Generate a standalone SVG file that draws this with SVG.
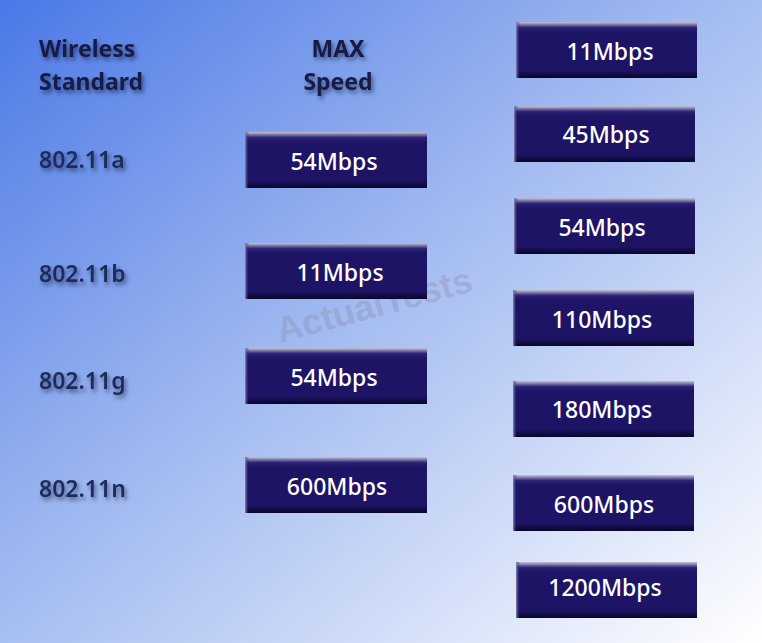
<svg xmlns="http://www.w3.org/2000/svg" width="762" height="643" viewBox="0 0 762 643">
<defs>
<linearGradient id="bg" x1="0" y1="0" x2="1" y2="1">
<stop offset="0" stop-color="#4a78e6"/>
<stop offset="0.45" stop-color="#9fb8f0"/>
<stop offset="1" stop-color="#ffffff"/>
</linearGradient>
<linearGradient id="boxg" x1="0" y1="0" x2="0" y2="1">
<stop offset="0" stop-color="#c4c4d6"/>
<stop offset="0.1" stop-color="#2a2274"/>
<stop offset="0.18" stop-color="#1e1466"/>
<stop offset="0.86" stop-color="#1e1466"/>
<stop offset="1" stop-color="#08062a"/>
</linearGradient>
<linearGradient id="edge" x1="0" y1="0" x2="1" y2="0">
<stop offset="0" stop-color="#8c88b8"/>
<stop offset="1" stop-color="#1e1466" stop-opacity="0"/>
</linearGradient>
<filter id="sh" x="-10%" y="-30%" width="130%" height="170%">
<feDropShadow dx="2" dy="3" stdDeviation="2" flood-color="#000020" flood-opacity="0.5"/>
</filter>
</defs>
<style>
.lbl{font-family:"Noto Sans","Open Sans","Liberation Sans",sans-serif;fill:#1a2050;filter:url(#sh)}
.hdr{font-size:23px;font-weight:bold;fill:#181a44}
.std{font-size:23px;font-weight:600;fill:#1e2c5c}
.box rect.b{fill:url(#boxg)}
.box rect.e{fill:url(#edge)}
.box text{font-family:"Noto Sans","Open Sans","Liberation Sans",sans-serif;font-size:23px;font-weight:500;fill:#ffffff;text-anchor:middle}
.wm{font-family:"Liberation Sans",Arial,sans-serif;font-size:36px;font-weight:bold;fill:#8e96b8;fill-opacity:0.45}
</style>
<rect width="762" height="643" fill="url(#bg)"/>
<g id="header-standard" class="lbl hdr"><text x="39" y="57">Wireless</text><text x="39" y="90">Standard</text></g>
<g id="header-speed" class="lbl hdr" text-anchor="middle"><text x="338" y="57">MAX</text><text x="338" y="90">Speed</text></g>
<g id="std-a" class="lbl std"><text x="39" y="168">802.11a</text></g>
<g id="std-b" class="lbl std"><text x="39" y="282">802.11b</text></g>
<g id="std-g" class="lbl std"><text x="39" y="389">802.11g</text></g>
<g id="std-n" class="lbl std"><text x="39" y="497">802.11n</text></g>
<text class="wm" x="280" y="343" transform="rotate(-15 280 343)">ActualTests</text>
<g id="slot-a" class="box"><rect class="b" x="245" y="132" width="182" height="56"/><rect class="e" x="245" y="132" width="4" height="56"/><text x="334" y="170">54Mbps</text></g>
<g id="slot-b" class="box"><rect class="b" x="245" y="243" width="182" height="56"/><rect class="e" x="245" y="243" width="4" height="56"/><text x="340" y="281">11Mbps</text></g>
<g id="slot-g" class="box"><rect class="b" x="245" y="348" width="182" height="56"/><rect class="e" x="245" y="348" width="4" height="56"/><text x="334" y="386">54Mbps</text></g>
<g id="slot-n" class="box"><rect class="b" x="245" y="457" width="182" height="56"/><rect class="e" x="245" y="457" width="4" height="56"/><text x="337" y="495">600Mbps</text></g>
<g id="opt-11" class="box"><rect class="b" x="516" y="22" width="181" height="56"/><rect class="e" x="516" y="22" width="4" height="56"/><text x="610" y="60">11Mbps</text></g>
<g id="opt-45" class="box"><rect class="b" x="514" y="106" width="181" height="56"/><rect class="e" x="514" y="106" width="4" height="56"/><text x="606" y="143">45Mbps</text></g>
<g id="opt-54" class="box"><rect class="b" x="514" y="198" width="181" height="56"/><rect class="e" x="514" y="198" width="4" height="56"/><text x="602" y="236">54Mbps</text></g>
<g id="opt-110" class="box"><rect class="b" x="513" y="290" width="181" height="56"/><rect class="e" x="513" y="290" width="4" height="56"/><text x="602" y="328">110Mbps</text></g>
<g id="opt-180" class="box"><rect class="b" x="513" y="381" width="181" height="56"/><rect class="e" x="513" y="381" width="4" height="56"/><text x="602" y="418">180Mbps</text></g>
<g id="opt-600" class="box"><rect class="b" x="513" y="475" width="181" height="56"/><rect class="e" x="513" y="475" width="4" height="56"/><text x="604" y="513">600Mbps</text></g>
<g id="opt-1200" class="box"><rect class="b" x="516" y="562" width="181" height="56"/><rect class="e" x="516" y="562" width="4" height="56"/><text x="605" y="596">1200Mbps</text></g>
</svg>
